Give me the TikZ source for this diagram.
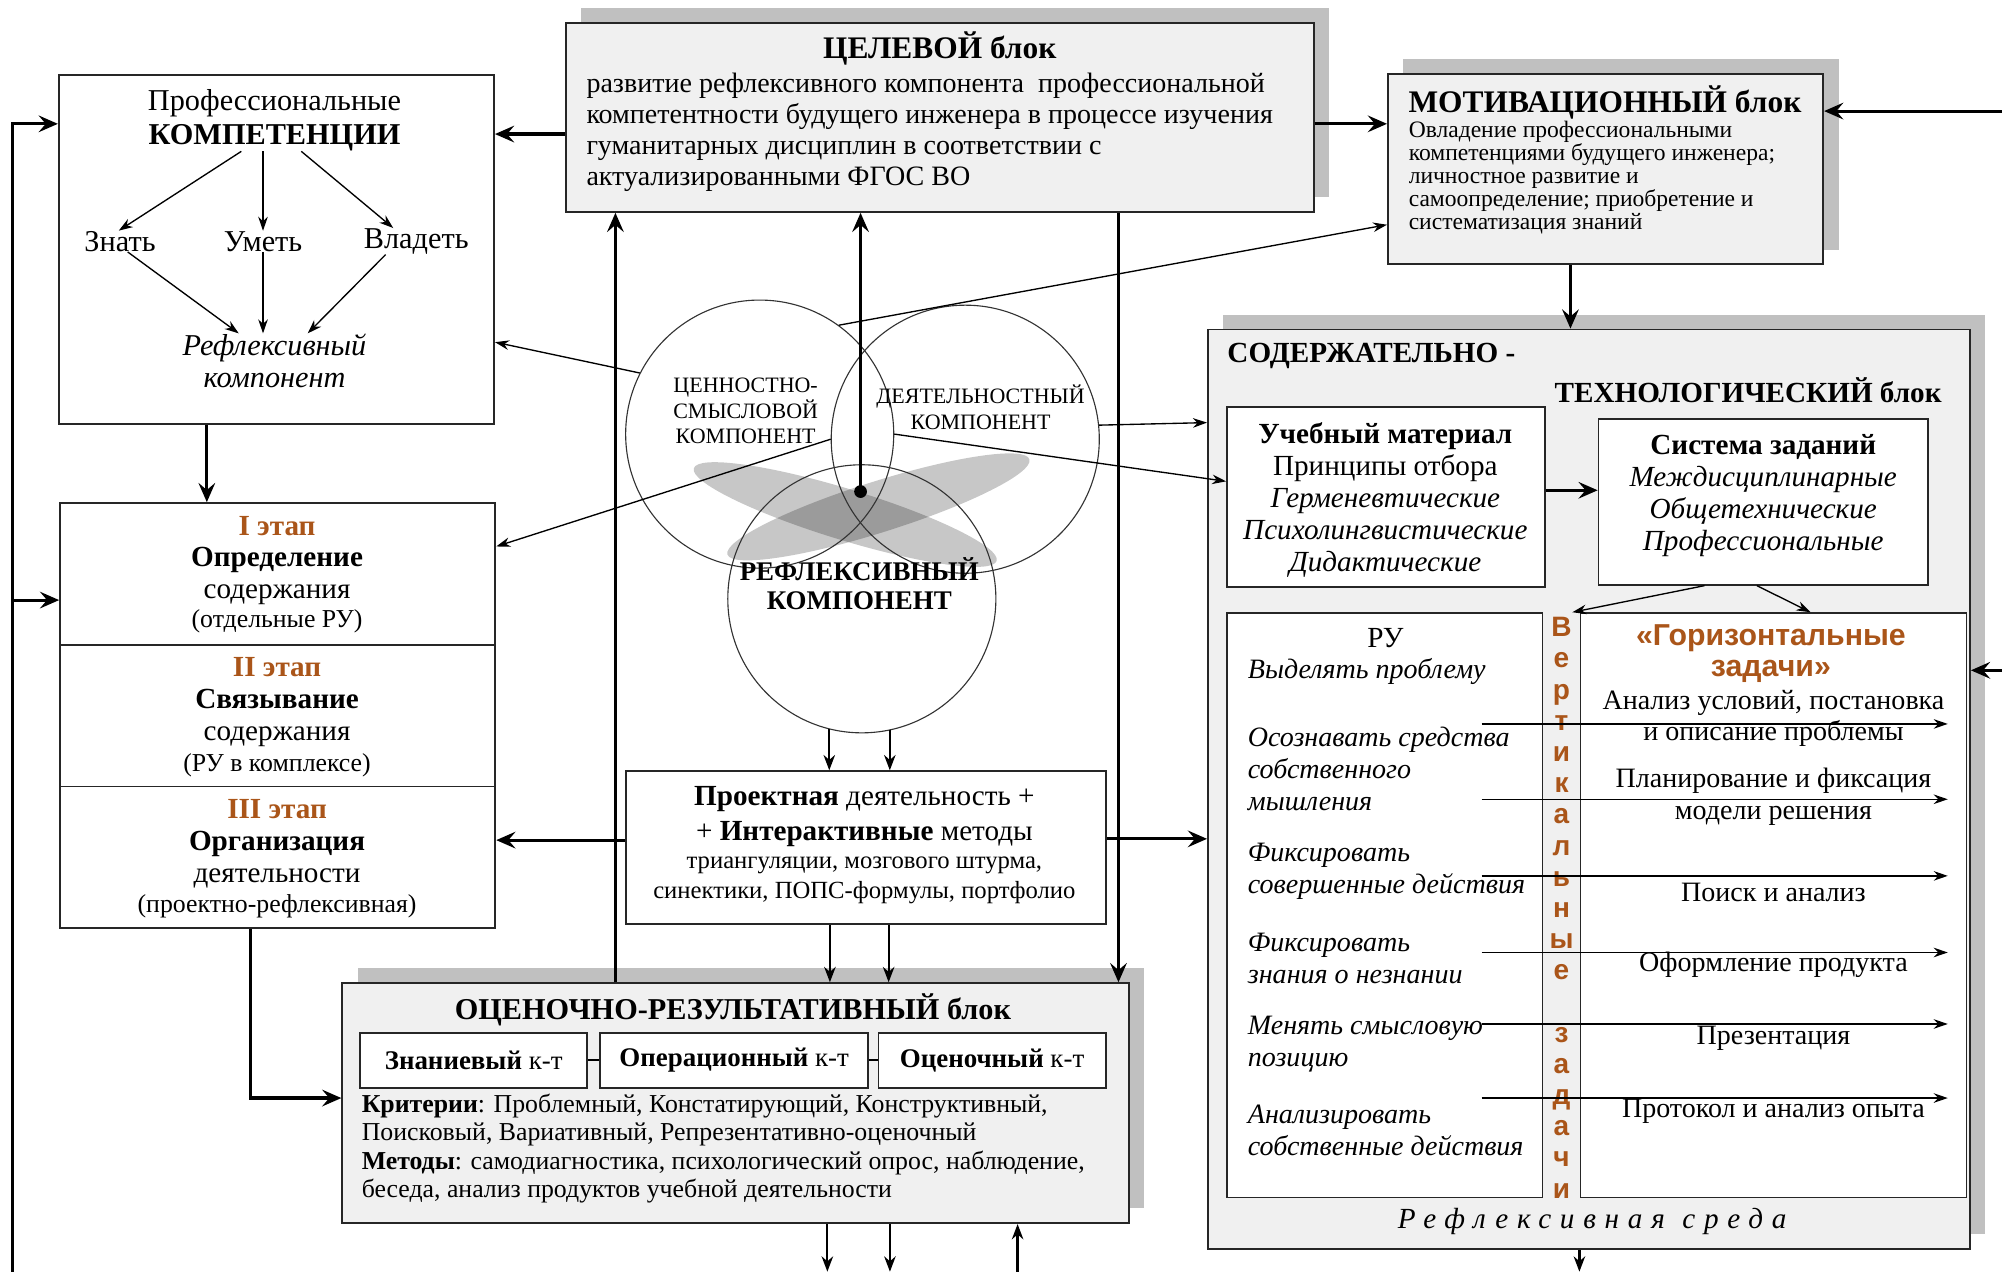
\documentclass[tikz,border=0pt]{standalone}
\usepackage{fontspec}
\setmainfont{Liberation Serif}
\setsansfont{Liberation Sans}
\usetikzlibrary{arrows.meta,shadows}
\definecolor{blokfill}{RGB}{240,240,240}
\definecolor{tenfill}{RGB}{192,192,192}
\definecolor{etapcol}{RGB}{170,85,25}
\newcommand\razmer[2]{\fontsize{#1}{#2}\selectfont}
\tikzset{
  blok/.style = {draw=black!85, fill=blokfill, line width=0.8pt, inner sep=0pt,
    drop shadow={shadow xshift=0.24cm, shadow yshift=0.23cm, fill=tenfill,
      draw=none, opacity=1}},% блок с серой тенью
  ramka/.style = {draw=black!85, fill=white, line width=0.8pt, inner sep=0pt},% белая рамка
  krug/.style = {circle, draw=black!80, line width=0.5pt, minimum size=4.2cm,
    inner sep=0pt},% компонент
  tekst/.style = {inner sep=0pt, align=center},
  strelka/.style = {-{Stealth[length=3mm, width=2.6mm, inset=1.1mm]}, line width=1.4pt},% толстая стрелка
  sredn/.style = {-{Stealth[length=2.4mm, width=1.8mm]}, line width=1pt},
  tonk/.style = {-{Stealth[length=2.2mm, width=1.5mm]}, line width=0.6pt}% тонкая стрелка
}
\begin{document}
\begin{tikzpicture}[x=0.02cm, y=-0.02cm]
	\useasboundingbox (0,0) rectangle (1568,996);
	% серые пятна под кругами
	\fill[black, opacity=0.22, rotate around={-17:(662,403)}] (662,403) ellipse (124 and 20);
	\fill[black, opacity=0.22, rotate around={17.5:(688,397)}] (688,397) ellipse (124 and 20);
	% Профессиональные компетенции
	\node[ramka, minimum width=6.82cm, minimum height=5.46cm] (komp) at (216.5,195.5) {};
	\node[tekst, font=\razmer{13.5}{15.3}] (kompzag) at (215,94) {Профессиональные\\\textbf{КОМПЕТЕНЦИИ}};
	\node[tekst, font=\razmer{13.5}{15}] (znat) at (94,189) {Знать};
	\node[tekst, font=\razmer{13.5}{15}] (umet) at (206,189) {Уметь};
	\node[tekst, font=\razmer{13.5}{15}] (vlad) at (326,189) {Владеть};
	\node[tekst, font=\itshape\razmer{13.5}{14.2}] (reflk) at (215,282.5) {Рефлексивный\\компонент};
	\draw[tonk] ([xshift=-0.52cm]kompzag.south) -- ([xshift=-0.02cm]znat.north);
	\draw[tonk] (kompzag.south -| umet.north) -- (umet.north);
	\draw[tonk] ([xshift=0.42cm]kompzag.south) -- ([xshift=-0.36cm]vlad.north);
	\draw[tonk] ([xshift=0.12cm]znat.south) -- ([xshift=-0.56cm]reflk.north);
	\draw[tonk] (umet.south) -- (reflk.north -| umet.south);
	\draw[tonk] ([xshift=-0.48cm]vlad.south) -- ([xshift=0.52cm]reflk.north);
	% ЦЕЛЕВОЙ блок
	\node[blok, minimum width=11.72cm, minimum height=2.96cm] (tsel) at (736,92) {};
	\node[tekst, font=\bfseries\razmer{14}{16}] (tselzag) at (736,38) {ЦЕЛЕВОЙ блок};
	\node[tekst, align=left, anchor=west, font=\razmer{12.5}{13.8}] (tseltxt) at (459,103.5)
		{развитие рефлексивного компонента\ \ профессиональной\\компетентности будущего инженера в процессе изучения\\гуманитарных дисциплин в соответствии с\\актуализированными ФГОС ВО};
	% МОТИВАЦИОННЫЙ блок
	\node[blok, minimum width=6.82cm, minimum height=2.98cm] (motiv) at (1257.5,132.5) {};
	\node[tekst, font=\bfseries\razmer{14}{16}] (motivzag) at (1257,80) {МОТИВАЦИОННЫЙ блок};
	\node[tekst, align=left, anchor=west, font=\razmer{10.5}{10.3}] (motivtxt) at (1103,139)
		{Овладение профессиональными\\компетенциями будущего инженера;\\личностное развитие и\\самоопределение; приобретение и\\систематизация знаний};
	% СОДЕРЖАТЕЛЬНО-ТЕХНОЛОГИЧЕСКИЙ блок
	\node[blok, minimum width=11.94cm, minimum height=14.4cm] (soder) at (1244.5,618) {};
	\node[tekst, anchor=west, font=\bfseries\razmer{13}{15}] (soderzag1) at (961,279) {СОДЕРЖАТЕЛЬНО -};
	\node[tekst, anchor=east, font=\bfseries\razmer{13}{15}] (soderzag2) at (1521,306) {ТЕХНОЛОГИЧЕСКИЙ блок};
	\node[ramka, minimum width=4.98cm, minimum height=2.82cm] (ucheb) at (1085.5,389.5) {};
	\node[tekst, font=\razmer{13}{14.3}] (uchebtxt) at (1085,391.5)
		{\textbf{Учебный материал}\\Принципы отбора\\\textit{Герменевтические}\\\textit{Психолингвистические}\\\textit{Дидактические}};
	\node[ramka, minimum width=5.16cm, minimum height=2.6cm] (sistema) at (1381,393) {};
	\node[tekst, font=\razmer{13}{14.3}] (sistematxt) at (1381,388)
		{\textbf{Система заданий}\\\textit{Междисциплинарные}\\\textit{Общетехнические}\\\textit{Профессиональные}};
	\node[ramka, line width=0.6pt, minimum width=4.94cm, minimum height=9.16cm] (ru) at (1084.5,709) {};
	\node[ramka, line width=0.6pt, minimum width=6.04cm, minimum height=9.16cm] (gor) at (1389,709) {};
	\node[tekst, font=\razmer{13}{14.2}] (rutitle) at (1085,500) {РУ};
	\node[tekst, align=left, anchor=west, font=\itshape\razmer{12.5}{14.2}] (ru1) at (977,526) {Выделять проблему};
	\node[tekst, align=left, anchor=west, font=\itshape\razmer{12.5}{14.2}] (ru2) at (977,602) {Осознавать средства\\собственного\\мышления};
	\node[tekst, align=left, anchor=west, font=\itshape\razmer{12.5}{14.2}] (ru3) at (977,682.5) {Фиксировать\\совершенные действия};
	\node[tekst, align=left, anchor=west, font=\itshape\razmer{12.5}{14.2}] (ru4) at (977,750.5) {Фиксировать\\знания о незнании};
	\node[tekst, align=left, anchor=west, font=\itshape\razmer{12.5}{14.2}] (ru5) at (977,817.5) {Менять смысловую\\позицию};
	\node[tekst, align=left, anchor=west, font=\itshape\razmer{12.5}{14.2}] (ru6) at (977,885.5) {Анализировать\\собственные действия};
	\node[tekst, text=etapcol, font=\sffamily\bfseries\razmer{13.5}{13.6}] (gortitle) at (1387,512) {«Горизонтальные\\задачи»};
	\node[tekst, font=\razmer{12.5}{14}] (gor1) at (1389,562.5) {Анализ условий, постановка\\и описание проблемы};
	\node[tekst, font=\razmer{12.5}{14}] (gor2) at (1389,624) {Планирование и фиксация\\модели решения};
	\node[tekst, font=\razmer{12.5}{14}] (gor3) at (1389,699) {Поиск и анализ};
	\node[tekst, font=\razmer{12.5}{14}] (gor4) at (1389,756) {Оформление продукта};
	\node[tekst, font=\razmer{12.5}{14}] (gor5) at (1389,813) {Презентация};
	\node[tekst, font=\razmer{12.5}{14}] (gor6) at (1389,870) {Протокол и анализ опыта};
	\node[tekst, text=etapcol, font=\sffamily\bfseries\razmer{12.5}{13.9}] (vert) at (1223,711)
		{В\\е\\р\\т\\и\\к\\а\\л\\ь\\н\\ы\\е\\[13.9pt]з\\а\\д\\а\\ч\\и};
	\node[tekst, font=\itshape\razmer{13}{15}\addfontfeature{LetterSpace=30}] (sreda) at (1247,957) {Рефлексивная\hspace{0.6em}среда};
	\draw[tonk, shorten >=0.3cm] (ru.east |- 0,567) ++(-48,0) -- (gor.east |- 0,567);
	\draw[tonk, shorten >=0.3cm] (ru.east |- 0,626) ++(-48,0) -- (gor.east |- 0,626);
	\draw[tonk, shorten >=0.3cm] (ru.east |- 0,686) ++(-48,0) -- (gor.east |- 0,686);
	\draw[tonk, shorten >=0.3cm] (ru.east |- 0,746) ++(-48,0) -- (gor.east |- 0,746);
	\draw[tonk, shorten >=0.3cm] (ru.east |- 0,802) ++(-48,0) -- (gor.east |- 0,802);
	\draw[tonk, shorten >=0.3cm] (ru.east |- 0,860) ++(-48,0) -- (gor.east |- 0,860);
	% этапы
	\node[ramka, minimum width=6.82cm, minimum height=2.22cm] (etap1) at (217.5,449.5) {};
	\node[ramka, minimum width=6.82cm, minimum height=2.22cm] (etap2) at (217.5,560.5) {};
	\node[ramka, minimum width=6.82cm, minimum height=2.22cm] (etap3) at (217.5,671.5) {};
	\node[tekst, font=\razmer{13}{14.2}] (etap1txt) at (217,439) {\textcolor{etapcol}{\textbf{I этап}}\\\textbf{Определение}\\содержания};
	\node[tekst, font=\razmer{11.5}{13}] (etap1pod) at (217,487) {(отдельные РУ)};
	\node[tekst, font=\razmer{13}{14.2}] (etap2txt) at (217,550) {\textcolor{etapcol}{\textbf{II этап}}\\\textbf{Связывание}\\содержания};
	\node[tekst, font=\razmer{11.5}{13}] (etap2pod) at (217,599) {(РУ в комплексе)};
	\node[tekst, font=\razmer{13}{14.2}] (etap3txt) at (217,661) {\textcolor{etapcol}{\textbf{III этап}}\\\textbf{Организация}\\деятельности};
	\node[tekst, font=\razmer{11.5}{13}] (etap3pod) at (217,710) {(проектно-рефлексивная)};
	% Проектная деятельность
	\node[ramka, minimum width=7.52cm, minimum height=2.4cm] (proekt) at (678,664) {};
	\node[tekst, font=\razmer{13}{15.3}] (proekttxt) at (677,639.5) {\textbf{Проектная} деятельность +\\+ \textbf{Интерактивные} методы};
	\node[tekst, font=\razmer{11}{13}] (proektpod) at (677,689.5) {триангуляции, мозгового штурма,\\синектики, ПОПС-формулы, портфолио};
	% ОЦЕНОЧНО-РЕЗУЛЬТАТИВНЫЙ блок
	\node[blok, minimum width=12.32cm, minimum height=3.76cm] (otsen) at (576,864) {};
	\node[tekst, font=\bfseries\razmer{13.5}{15}] (otsenzag) at (574,791) {ОЦЕНОЧНО-РЕЗУЛЬТАТИВНЫЙ блок};
	\node[ramka, minimum width=3.56cm, minimum height=0.86cm, font=\razmer{12}{14}] (znan) at (371,830.5) {\textbf{Знаниевый} к-т};
	\node[ramka, minimum width=4.2cm, minimum height=0.86cm, font=\razmer{12}{14}] (oper) at (575,830.5) {\textbf{Операционный} к-т};
	\node[ramka, minimum width=3.56cm, minimum height=0.86cm, font=\razmer{12}{14}] (ocen) at (777,830.5) {\textbf{Оценочный} к-т};
	\draw[line width=0.8pt] (znan) -- (oper);
	\draw[line width=0.8pt] (oper) -- (ocen);
	\node[tekst, align=left, anchor=west, font=\razmer{11.5}{12.6}] (otsentxt) at (283,899.5)
		{\textbf{Критерии}: Проблемный, Констатирующий, Конструктивный,\\Поисковый, Вариативный, Репрезентативно-оценочный\\\textbf{Методы}: самодиагностика, психологический опрос, наблюдение,\\беседа, анализ продуктов учебной деятельности};
	% три компонента
	\node[krug] (cenn) at (595,340) {};
	\node[krug] (deyat) at (756,344) {};
	\node[krug] (refl) at (675,469) {};
	\node[tekst, font=\razmer{9.8}{11.3}] (cenntxt) at (584,322) {ЦЕННОСТНО-\\СМЫСЛОВОЙ\\КОМПОНЕНТ};
	\node[tekst, font=\razmer{9.8}{11.3}] (deyattxt) at (768,319) {ДЕЯТЕЛЬНОСТНЫЙ\\КОМПОНЕНТ};
	\node[tekst, font=\bfseries\razmer{12}{13}] (refltxt) at (673,457) {РЕФЛЕКСИВНЫЙ\\КОМПОНЕНТ};
	\node[circle, fill, inner sep=0pt, minimum size=0.2cm] (tochka) at (674,385) {};
	% края рисунка
	\coordinate (levo) at (10,996);
	\coordinate (pravo1) at (1568,87);
	\coordinate (pravo2) at (1568,525);
	\coordinate (niz1) at (648,996);
	\coordinate (niz2) at (697,996);
	\coordinate (niz3) at (797,996);
	\coordinate (niz4) at (1237,996);
	% связи
	\draw[strelka] (tsel.west |- 0,105) -- (komp.east |- 0,105);
	\draw[strelka] (tsel.east |- 0,97) -- (motiv.west |- 0,97);
	\draw[strelka] (pravo1) -- (motiv.east |- pravo1);
	\draw[strelka] (motiv.south -| 1230,0) -- (soder.north -| 1230,0);
	\draw[strelka] (tochka.center) -- (tsel.south -| tochka);
	\draw[strelka] (otsen.north -| 482,0) -- (tsel.south -| 482,0);
	\draw[strelka] (tsel.south -| 876,0) -- (otsen.north -| 876,0);
	\draw[strelka] (komp.south -| 162,0) -- (etap1.north -| 162,0);
	\draw[strelka] (levo) |- (komp.west |- 0,97);
	\draw[strelka] (levo |- 0,470) -- (etap1.west |- 0,470);
	\draw[strelka] (proekt.west |- 0,658) -- (etap3.east |- 0,658);
	\draw[strelka] (proekt.east |- 0,657) -- (soder.west |- 0,657);
	\draw[strelka] (etap3.south -| 196,0) |- (otsen.west |- 0,860);
	\draw[strelka] (pravo2) -- (soder.east |- pravo2);
	\draw[strelka] (ucheb.east |- 0,384) -- (sistema.west |- 0,384);
	\draw[sredn] (refl.-104) -- (proekt.north -| refl.-104);
	\draw[sredn] (refl.-78) -- (proekt.north -| refl.-78);
	\draw[sredn] (proekt.south -| 650,0) -- (otsen.north -| 650,0);
	\draw[sredn] (proekt.south -| 696,0) -- (otsen.north -| 696,0);
	\draw[sredn] (otsen.south -| niz1) -- (niz1);
	\draw[sredn] (otsen.south -| niz2) -- (niz2);
	\draw[sredn] (niz3) -- (otsen.south -| niz3);
	\draw[sredn] (soder.south -| niz4) -- (niz4);
	\draw[tonk] (cenn.153) -- (komp.east |- 0,268);
	\draw[tonk] (cenn.54) -- (motiv.west |- 0,176);
	\draw[tonk] (deyat.west) -- (etap1.east |- 0,428);
	\draw[tonk] (cenn.east) -- (ucheb.west |- 0,377);
	\draw[tonk] (deyat.6) -- (soder.west |- 0,331);
	\draw[tonk] (sistema.south -| 1335,0) -- ([xshift=-0.12cm]gor.north west);
	\draw[tonk] (sistema.south -| 1376,0) -- (gor.north -| 1418,0);
\end{tikzpicture}
\end{document}
